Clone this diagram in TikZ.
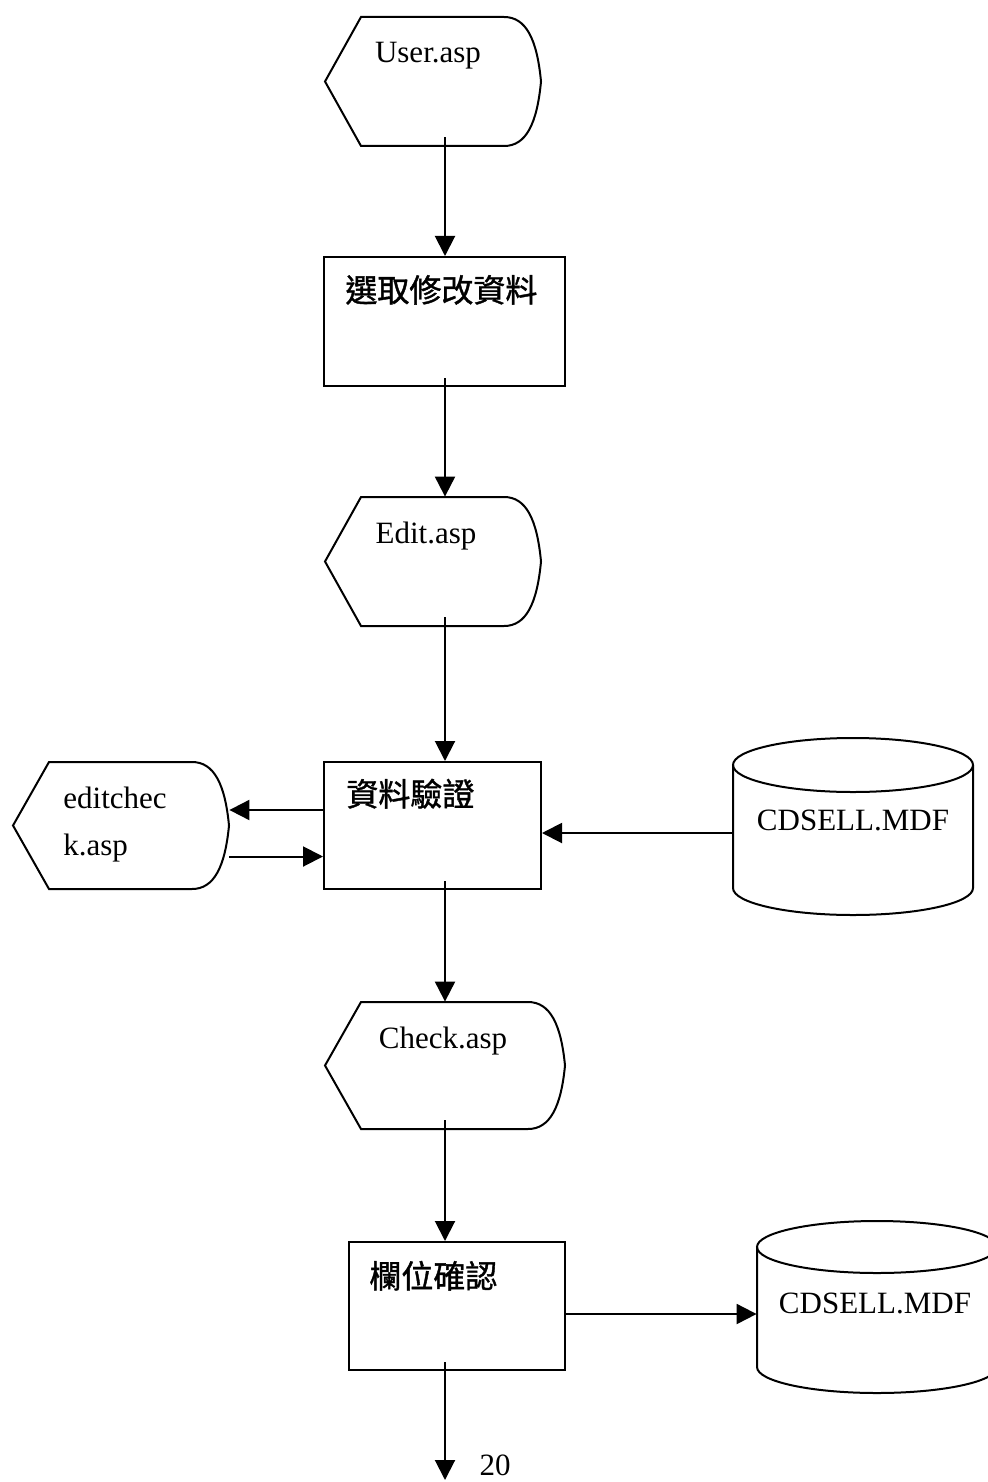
\documentclass[tikz,border=0pt]{standalone}
\usepackage{fontspec}
\setmainfont{Liberation Serif}
\newfontfamily\cjk{Noto Sans CJK TC}[FakeBold=1.2]
\usetikzlibrary{arrows.meta,calc}
\tikzset{
  line/.style={line width=1pt},
  arr/.style={line width=1pt,-{Triangle[length=10pt,width=10pt]}},
  procbox/.style={draw,line width=1pt,inner sep=0pt},
  anchorbox/.style={inner sep=0pt},
  lbl/.style={inner sep=0pt,anchor=base,font=\fontsize{15.5}{18}\selectfont},
  lbll/.style={inner sep=0pt,anchor=base west,font=\fontsize{15.5}{18}\selectfont},
  cjklbl/.style={inner sep=0pt,anchor=base west,font=\cjk\fontsize{16}{18}\selectfont},
}
% name, L, T, R, B
\newcommand{\dispshape}[5]{%
  \draw[line] (#2,{(#3+#5)/2}) -- ({#2+36},#3) -- ({#4-37},#3)
    .. controls ({#4-15},#3) and ({#4-4},{#3+22}) .. (#4,{(#3+#5)/2})
    .. controls ({#4-4},{#5-22}) and ({#4-15},#5) .. ({#4-37},#5)
    -- ({#2+36},#5) -- cycle;
  \node[anchorbox, minimum width={(#4-#2)*0.5pt}, minimum height={(#5-#3)*0.5pt}]
    (#1) at ({(#2+#4)/2},{(#3+#5)/2}) {};
}
% name, L, R, top centre, bottom centre, ry
\newcommand{\cylshape}[6]{%
  \draw[line] (#2,#4) -- (#2,#5)
    arc[start angle=180,end angle=360,x radius={(#3-#2)*0.25pt},y radius={#6*0.5pt}]
    -- (#3,#4);
  \draw[line] ({(#2+#3)/2},#4) ellipse[x radius={(#3-#2)*0.25pt},y radius={#6*0.5pt}];
  \node[anchorbox, minimum width={(#3-#2)*0.5pt}, minimum height={(#5-#4)*0.5pt}]
    (#1) at ({(#2+#3)/2},{(#4+#5)/2}) {};
}
\begin{document}
\begin{tikzpicture}[x=0.5pt,y=-0.5pt]
\useasboundingbox (0,0) rectangle (988,1482);
\clip (0,0) rectangle (988,1482);
\coordinate (spine) at (445,0);

% shapes
\dispshape{user}{325}{17}{541}{146}
\node[procbox, minimum width=120.5pt, minimum height=64.5pt] (r1) at (444.5,321.5) {};
\dispshape{edit}{325}{497}{541}{626}
\node[procbox, minimum width=108.5pt, minimum height=63.5pt] (r2) at (432.5,825.5) {};
\dispshape{echk}{13}{762}{229}{889}
\cylshape{db1}{733}{973}{765}{888}{27}
\dispshape{chk}{325}{1002}{565}{1129}
\node[procbox, minimum width=108pt, minimum height=64pt] (r3) at (457,1306) {};
\cylshape{db2}{757}{997}{1247}{1367}{26}
\coordinate (end) at (445,1480);

% texts
\node[lbl] (tuser) at (428,63) {User.asp};
\node[cjklbl] (tr1) at (345,302) {選取修改資料};
\node[lbl] (tedit) at (426,543) {Edit.asp};
\node[cjklbl] (tr2) at (346,806) {資料驗證};
\node[lbll] (techk1) at (63,808) {editchec};
\node[lbll] (techk2) at (63,855) {k.asp};
\node[lbl] (tdb1) at (853,830) {CDSELL.MDF};
\node[lbl] (tchk) at (443,1048) {Check.asp};
\node[cjklbl] (tr3) at (369,1288) {欄位確認};
\node[lbl] (tdb2) at (875,1313) {CDSELL.MDF};
\node[lbl] (tpage) at (495,1475) {20};

% connectors
\draw[arr] ($(user.south -| spine)+(0,-9)$) -- (r1.north -| spine);
\draw[arr] ($(r1.south -| spine)+(0,-9)$) -- (edit.north -| spine);
\draw[arr] ($(edit.south -| spine)+(0,-9)$) -- (r2.north -| spine);
\draw[arr] ($(r2.south -| spine)+(0,-9)$) -- (chk.north -| spine);
\draw[arr] ($(chk.south -| spine)+(0,-9)$) -- (r3.north -| spine);
\draw[arr] ($(r3.south -| spine)+(0,-9)$) -- (end);
\draw[arr] ($(r2.west)+(0,-15.5)$) coordinate (a1) -- (a1 -| echk.east);
\draw[arr] ($(echk.east)+(0,31)$) coordinate (a2) -- (a2 -| r2.west);
\draw[arr] ($(db1.west)+(0,6.5)$) coordinate (a3) -- (a3 -| r2.east);
\draw[arr] ($(r3.east)+(0,8)$) coordinate (a4) -- (a4 -| db2.west);
\end{tikzpicture}
\end{document}
